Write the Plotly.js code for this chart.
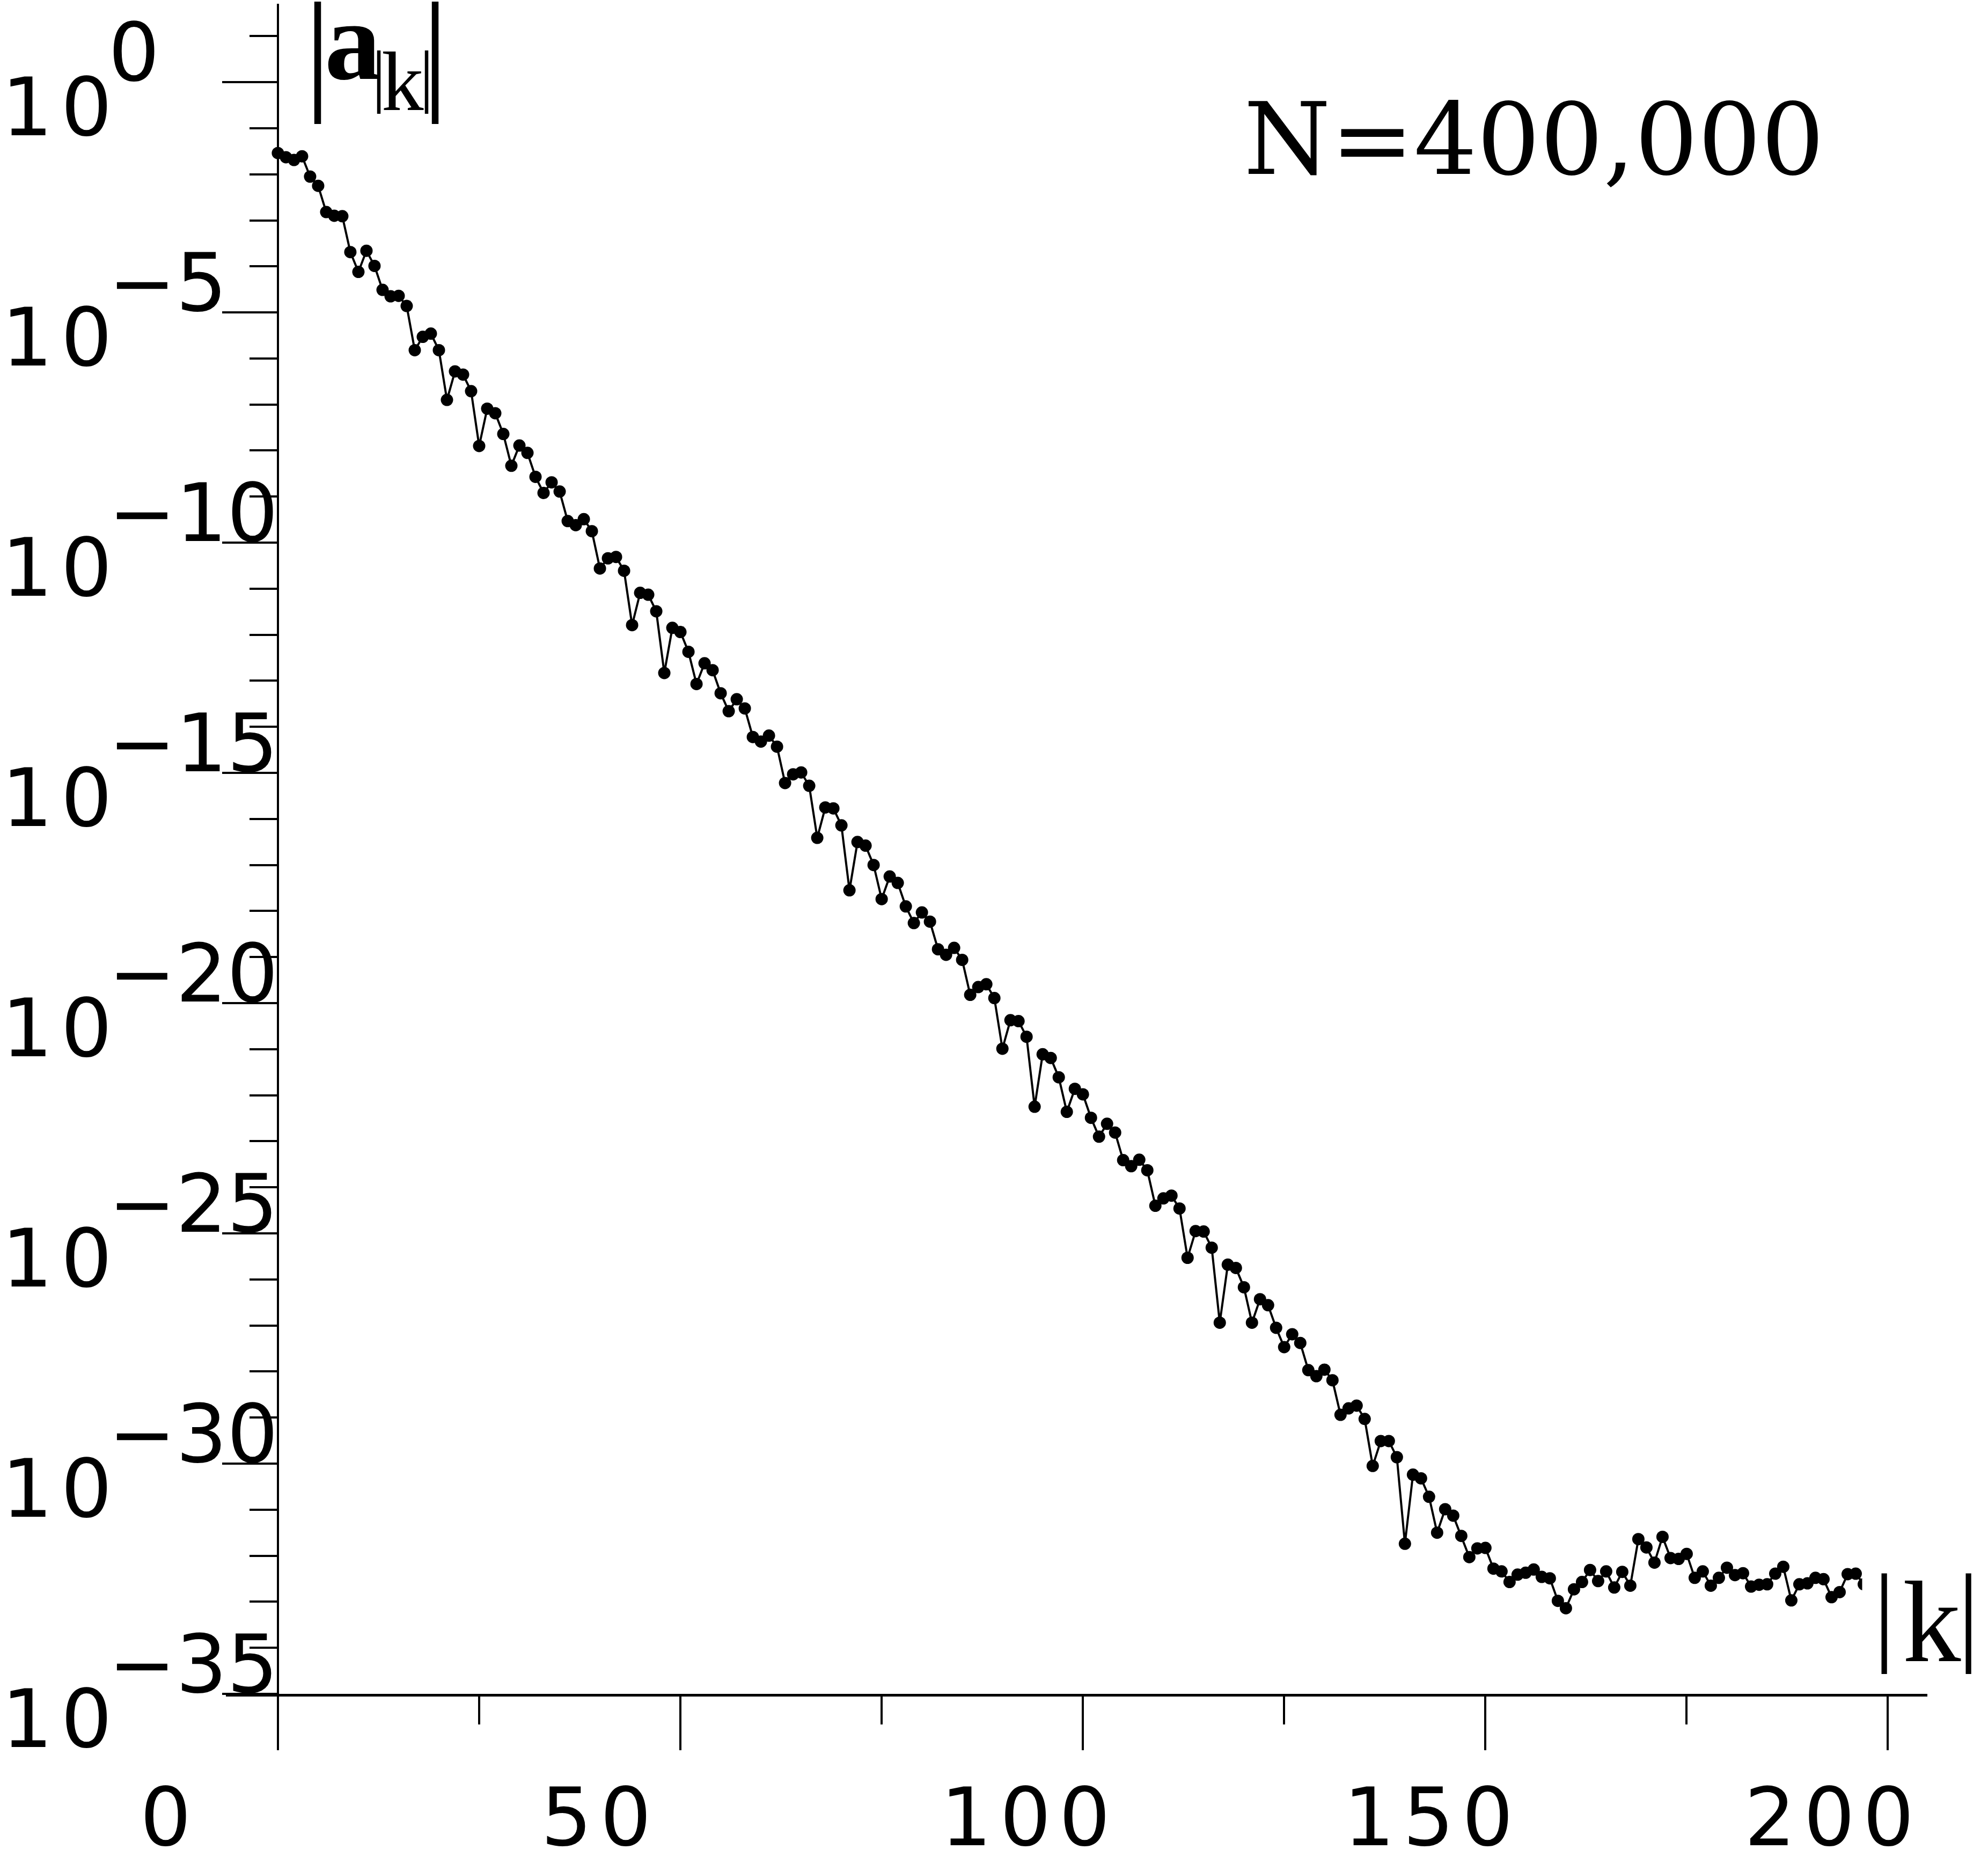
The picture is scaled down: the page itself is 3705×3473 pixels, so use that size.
<!DOCTYPE html>
<html><head><meta charset="utf-8">
<script src="https://cdn.plot.ly/plotly-3.0.1.min.js"></script>
<style>html,body{margin:0;padding:0;background:#fff;}</style>
</head><body>
<div id="chart" style="width:3705px;height:3473px;"></div>
<script>
// ---- data ----
const k = [0,1,2,3,4,5,6,7,8,9,10,11,12,13,14,15,16,17,18,19,
20,21,22,23,24,25,26,27,28,29,30,31,32,33,34,35,36,37,38,39,
40,41,42,43,44,45,46,47,48,49,50,51,52,53,54,55,56,57,58,59,
60,61,62,63,64,65,66,67,68,69,70,71,72,73,74,75,76,77,78,79,
80,81,82,83,84,85,86,87,88,89,90,91,92,93,94,95,96,97,98,99,
100,101,102,103,104,105,106,107,108,109,110,111,112,113,114,115,116,117,118,119,
120,121,122,123,124,125,126,127,128,129,130,131,132,133,134,135,136,137,138,139,
140,141,142,143,144,145,146,147,148,149,150,151,152,153,154,155,156,157,158,159,
160,161,162,163,164,165,166,167,168,169,170,171,172,173,174,175,176,177,178,179,
180,181,182,183,184,185,186,187,188,189,190,191,192,193,194,195,196,197];
// log10 |a_|k||
const log10Ak = [-1.54,-1.63,-1.69,-1.61,-2.05,-2.25,-2.82,-2.90,-2.91,-3.69,
-4.12,-3.66,-3.99,-4.51,-4.65,-4.64,-4.86,-5.82,-5.53,-5.46,
-5.82,-6.90,-6.28,-6.35,-6.71,-7.90,-7.09,-7.19,-7.64,-8.33,
-7.89,-8.05,-8.57,-8.92,-8.69,-8.89,-9.53,-9.62,-9.49,-9.75,
-10.56,-10.34,-10.31,-10.61,-11.79,-11.09,-11.13,-11.49,-12.83,-11.85,
-11.94,-12.37,-13.07,-12.62,-12.77,-13.27,-13.66,-13.40,-13.60,-14.22,
-14.32,-14.19,-14.43,-15.22,-15.03,-14.99,-15.28,-16.41,-15.75,-15.77,
-16.14,-17.55,-16.50,-16.58,-17.00,-17.74,-17.25,-17.39,-17.90,-18.26,
-18.03,-18.23,-18.83,-18.95,-18.80,-19.06,-19.82,-19.65,-19.59,-19.89,
-20.99,-20.37,-20.39,-20.73,-22.25,-21.11,-21.19,-21.61,-22.36,-21.86,
-21.98,-22.49,-22.90,-22.62,-22.81,-23.41,-23.54,-23.40,-23.63,-24.40,
-24.24,-24.18,-24.46,-25.53,-24.95,-24.96,-25.31,-26.94,-25.68,-25.75,
-26.17,-26.94,-26.43,-26.56,-27.05,-27.47,-27.19,-27.38,-27.97,-28.10,
-27.96,-28.19,-28.94,-28.80,-28.74,-29.03,-30.05,-29.51,-29.51,-29.86,
-31.74,-30.24,-30.32,-30.72,-31.50,-30.99,-31.13,-31.57,-32.03,-31.84,
-31.83,-32.28,-32.34,-32.57,-32.41,-32.37,-32.30,-32.46,-32.49,-32.98,
-33.14,-32.73,-32.57,-32.31,-32.55,-32.34,-32.69,-32.35,-32.65,-31.64,
-31.82,-32.15,-31.59,-32.05,-32.07,-31.96,-32.48,-32.34,-32.65,-32.48,
-32.26,-32.42,-32.38,-32.67,-32.63,-32.62,-32.39,-32.24,-32.97,-32.62,
-32.60,-32.48,-32.51,-32.90,-32.79,-32.40,-32.39,-32.62];
const xTickVals = [0, 50, 100, 150, 200];
const yTickExps = [0, -5, -10, -15, -20, -25, -30, -35];
const nLabel = "N=400,000";

// ---- layout geometry ----
const W = 3705, H = 3473;
const M = {l: 421, r: 113, t: 7, b: 317, pad: 0};
const PW = W - M.l - M.r, PH = H - M.t - M.b;
const xRange = [-6.46, 204.9], yRange = [-35, 1.703];
const px2x = px => (px - M.l) / PW;
const py2y = py => 1 - (py - M.t) / PH;
const tickPx = v => M.l + (v - xRange[0]) / (xRange[1] - xRange[0]) * PW;
const tickPy = e => M.t + (yRange[1] - e) / (yRange[1] - yRange[0]) * PH;

const SANS = "DejaVu Sans";
const SERIF = "Liberation Serif";
function ann(text, px, py, size, family, xanchor) {
  return {
    text: text, xref: 'paper', yref: 'paper', x: px2x(px), y: py2y(py),
    xanchor: xanchor || 'center', yanchor: 'middle', showarrow: false,
    font: {family: family, size: size, color: '#000'}, borderpad: 0, borderwidth: 0
  };
}
const spaced = s => String(s).split('').join('\u200A');

const annotations = [];
// y tick labels: "10" just below the tick, exponent sitting on it
yTickExps.forEach(e => {
  const ty = tickPy(e);
  annotations.push(ann(spaced(10), 3, ty + 47, 150, SANS, 'left'));
  annotations.push(ann(e === 0 ? "0" : "\u2212" + String(-e), 202, ty - 55, 150, SANS, 'left'));
});
// x tick labels
const xLabelShift = [-209, -157, -107, -106, -109];
xTickVals.forEach((v, i) => {
  annotations.push(ann(spaced(v), tickPx(v) + xLabelShift[i], 3386, 150, SANS));
});
// y axis label |a_|k||
annotations.push(ann("|", 592, 92, 250, SERIF));
annotations.push(ann("<b>a</b>", 657, 76, 210, SERIF));
annotations.push(ann("|", 706, 140, 130, SERIF));
annotations.push(ann("k", 750, 152, 157, SERIF));
annotations.push(ann("|", 795, 140, 130, SERIF));
annotations.push(ann("|", 811, 92, 250, SERIF));
// x axis label |k|
annotations.push(ann("|", 3511, 3005, 206, SERIF));
annotations.push(ann("k", 3600, 3022, 217, SERIF));
annotations.push(ann("|", 3668, 3005, 206, SERIF));
// N label
annotations.push(ann(nLabel, 2859, 260, 185, "DejaVu Serif"));

const trace = {
  x: k,
  y: log10Ak.map(v => Math.pow(10, v)),
  type: 'scatter', mode: 'lines+markers',
  line: {color: '#000', width: 4},
  marker: {color: '#000', size: 23},
  hoverinfo: 'skip'
};

const layout = {
  width: W, height: H, margin: M,
  paper_bgcolor: '#fff', plot_bgcolor: '#fff',
  showlegend: false,
  xaxis: {
    range: xRange, showgrid: false, zeroline: false,
    showline: true, linewidth: 4.5, linecolor: '#000',
    ticks: 'outside', ticklen: 100, tickwidth: 4, tickcolor: '#000',
    tick0: 0, dtick: 50, showticklabels: false,
    minor: {ticks: 'outside', tick0: 0, dtick: 25, ticklen: 52, tickwidth: 4, tickcolor: '#000', showgrid: false}
  },
  yaxis: {
    type: 'log', range: yRange, showgrid: false, zeroline: false,
    anchor: 'free', position: (0 - xRange[0]) / (xRange[1] - xRange[0]),
    showline: true, linewidth: 4.5, linecolor: '#000',
    ticks: 'outside', ticklen: 102, tickwidth: 4, tickcolor: '#000',
    tick0: 0, dtick: 5, showticklabels: false,
    minor: {ticks: 'outside', tick0: 0, dtick: 1, ticklen: 51, tickwidth: 4, tickcolor: '#000', showgrid: false}
  },
  shapes: [{
    type: 'rect', xref: 'x', yref: 'paper', x0: 196.8, x1: 206, y0: 0.006, y1: 1.0,
    fillcolor: '#fff', line: {width: 0}, layer: 'above'
  }],
  annotations: annotations
};

Plotly.newPlot('chart', [trace], layout, {displayModeBar: false, staticPlot: true});
</script>
</body></html>
